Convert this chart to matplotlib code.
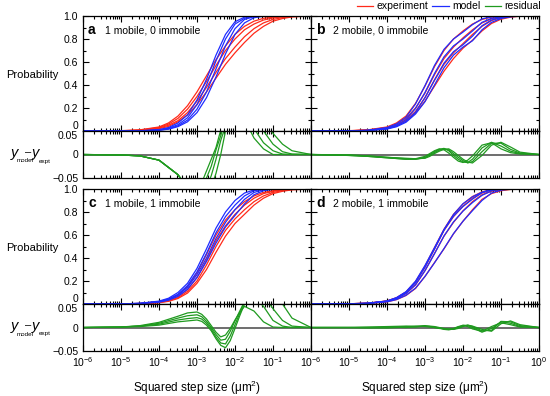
import matplotlib

matplotlib.use("Agg")
import matplotlib.pyplot as plt
import numpy as np
from matplotlib.lines import Line2D
from matplotlib.ticker import LogLocator, NullFormatter

plt.rcParams["font.family"] = ["Liberation Sans", "DejaVu Sans"]
plt.rcParams["mathtext.fontset"] = "custom"
plt.rcParams["mathtext.rm"] = "Liberation Sans"
plt.rcParams["mathtext.it"] = "Liberation Sans:italic"
plt.rcParams["font.size"] = 7.5

RED = "#ff2a1a"
BLUE = "#1f2cff"
GREEN = "#1f9a1f"

# log10 of squared step size for the cumulative curves
cdf_logx = [-6, -5, -4.5, -4, -3.75, -3.5, -3.25, -3, -2.75, -2.5, -2.25, -2,
            -1.75, -1.5, -1.25, -1, -0.75, -0.5, 0]
# log10 of squared step size for the residual curves
res_logx = [-6, -5, -4.5, -4, -3.5, -3.25, -3, -2.875, -2.75, -2.625, -2.5,
            -2.375, -2.25, -2.125, -2, -1.875, -1.75, -1.5, -1.25, -1, -0.75,
            -0.5, 0]
decades = [-6, -5, -4, -3, -2, -1, 0]

# panel a: 1 mobile, 0 immobile
expt_a = [
    [0, 0.003, 0.01, 0.035, 0.07, 0.13, 0.22, 0.34, 0.48, 0.62, 0.74, 0.84, 0.91, 0.955, 0.98, 0.99, 0.996, 0.999, 1],
    [0, 0.002, 0.008, 0.03, 0.06, 0.11, 0.19, 0.30, 0.43, 0.57, 0.70, 0.80, 0.88, 0.93, 0.965, 0.983, 0.993, 0.998, 1],
    [0, 0.001, 0.006, 0.025, 0.05, 0.09, 0.16, 0.26, 0.38, 0.51, 0.63, 0.73, 0.82, 0.89, 0.94, 0.97, 0.986, 0.995, 1],
    [0, 0.001, 0.005, 0.02, 0.04, 0.08, 0.14, 0.23, 0.34, 0.46, 0.58, 0.68, 0.77, 0.85, 0.91, 0.955, 0.978, 0.992, 1],
]
model_a = [
    [0, 0, 0.002, 0.012, 0.03, 0.07, 0.14, 0.27, 0.45, 0.66, 0.84, 0.95, 0.99, 1, 1, 1, 1, 1, 1],
    [0, 0, 0.001, 0.009, 0.024, 0.055, 0.115, 0.23, 0.40, 0.61, 0.80, 0.93, 0.98, 0.997, 1, 1, 1, 1, 1],
    [0, 0, 0.001, 0.007, 0.019, 0.045, 0.095, 0.19, 0.34, 0.54, 0.74, 0.89, 0.97, 0.994, 1, 1, 1, 1, 1],
    [0, 0, 0.001, 0.006, 0.016, 0.038, 0.08, 0.16, 0.29, 0.47, 0.67, 0.84, 0.94, 0.985, 0.998, 1, 1, 1, 1],
]
resid_a = [
    [0, -0.001, -0.003, -0.012, -0.043, -0.07, -0.085, -0.06, -0.035, -0.01, 0.015, 0.052, 0.09, 0.11, 0.11, 0.095, 0.075, 0.035, 0.012, 0, 0, 0, 0],
    [0, -0.001, -0.003, -0.012, -0.043, -0.072, -0.09, -0.08, -0.05, -0.025, 0.01, 0.04, 0.075, 0.1, 0.11, 0.105, 0.09, 0.055, 0.025, 0.008, 0.001, 0, 0],
    [0, -0.001, -0.003, -0.012, -0.043, -0.072, -0.095, -0.09, -0.07, -0.045, -0.01, 0.03, 0.06, 0.09, 0.105, 0.105, 0.1, 0.075, 0.05, 0.022, 0.006, 0.001, 0],
    [0, -0.001, -0.003, -0.012, -0.043, -0.072, -0.1, -0.1, -0.09, -0.07, -0.04, 0.0, 0.05, 0.08, 0.1, 0.105, 0.105, 0.09, 0.07, 0.045, 0.022, 0.008, 0],
]

# panel b: 2 mobile, 0 immobile
expt_b = [
    [0, 0.003, 0.01, 0.035, 0.07, 0.13, 0.24, 0.39, 0.56, 0.70, 0.80, 0.87, 0.93, 0.97, 0.99, 0.997, 1, 1, 1],
    [0, 0.002, 0.008, 0.03, 0.06, 0.11, 0.20, 0.33, 0.49, 0.63, 0.73, 0.81, 0.88, 0.94, 0.975, 0.99, 0.997, 1, 1],
    [0, 0.002, 0.007, 0.025, 0.05, 0.095, 0.17, 0.29, 0.44, 0.58, 0.68, 0.76, 0.84, 0.91, 0.96, 0.985, 0.995, 0.999, 1],
    [0, 0.002, 0.006, 0.022, 0.045, 0.085, 0.155, 0.26, 0.39, 0.52, 0.63, 0.72, 0.79, 0.87, 0.935, 0.972, 0.99, 0.998, 1],
]
model_b = [
    [0, 0.001, 0.007, 0.03, 0.062, 0.12, 0.235, 0.395, 0.57, 0.71, 0.80, 0.86, 0.925, 0.975, 0.993, 0.998, 1, 1, 1],
    [0, 0.001, 0.005, 0.024, 0.05, 0.1, 0.195, 0.335, 0.50, 0.645, 0.74, 0.80, 0.87, 0.945, 0.98, 0.993, 0.998, 1, 1],
    [0, 0.001, 0.004, 0.02, 0.042, 0.085, 0.163, 0.29, 0.445, 0.59, 0.69, 0.75, 0.825, 0.915, 0.965, 0.987, 0.996, 1, 1],
    [0, 0.001, 0.004, 0.017, 0.037, 0.076, 0.148, 0.255, 0.40, 0.55, 0.66, 0.73, 0.785, 0.88, 0.945, 0.978, 0.993, 0.999, 1],
]
resid_b = [
    [0, -0.002, -0.004, -0.007, -0.01, -0.009, -0.004, 0.002, 0.008, 0.012, 0.01, 0.003, -0.006, -0.014, -0.017, -0.012, -0.003, 0.02, 0.025, 0.012, 0.004, 0.001, 0],
    [0, -0.002, -0.004, -0.007, -0.01, -0.01, -0.006, 0.0, 0.006, 0.011, 0.013, 0.008, -0.002, -0.01, -0.016, -0.017, -0.01, 0.014, 0.026, 0.018, 0.007, 0.002, 0],
    [0, -0.001, -0.003, -0.006, -0.009, -0.01, -0.007, -0.002, 0.004, 0.009, 0.012, 0.01, 0.002, -0.006, -0.013, -0.018, -0.015, 0.006, 0.024, 0.024, 0.011, 0.003, 0],
    [0, -0.001, -0.003, -0.006, -0.008, -0.009, -0.008, -0.004, 0.002, 0.007, 0.011, 0.012, 0.006, -0.002, -0.01, -0.016, -0.018, -0.002, 0.02, 0.026, 0.016, 0.005, 0],
]

# panel c: 1 mobile, 1 immobile
expt_c = [
    [0, 0.001, 0.005, 0.02, 0.04, 0.08, 0.15, 0.27, 0.43, 0.60, 0.73, 0.82, 0.89, 0.94, 0.97, 0.985, 0.994, 0.998, 1],
    [0, 0.001, 0.004, 0.016, 0.032, 0.065, 0.125, 0.23, 0.38, 0.55, 0.68, 0.78, 0.86, 0.92, 0.96, 0.98, 0.991, 0.997, 1],
    [0, 0.001, 0.003, 0.013, 0.027, 0.055, 0.11, 0.20, 0.34, 0.50, 0.64, 0.74, 0.82, 0.89, 0.94, 0.97, 0.986, 0.995, 1],
    [0, 0.001, 0.003, 0.011, 0.023, 0.048, 0.095, 0.18, 0.30, 0.45, 0.59, 0.70, 0.78, 0.86, 0.92, 0.96, 0.98, 0.993, 1],
]
model_c = [
    [0, 0.001, 0.006, 0.025, 0.05, 0.1, 0.18, 0.31, 0.48, 0.66, 0.80, 0.90, 0.965, 0.992, 1, 1, 1, 1, 1],
    [0, 0.001, 0.005, 0.021, 0.043, 0.085, 0.16, 0.28, 0.44, 0.62, 0.76, 0.86, 0.94, 0.985, 0.998, 1, 1, 1, 1],
    [0, 0.001, 0.005, 0.019, 0.038, 0.076, 0.145, 0.255, 0.40, 0.57, 0.71, 0.82, 0.91, 0.97, 0.994, 1, 1, 1, 1],
    [0, 0.001, 0.004, 0.016, 0.033, 0.066, 0.128, 0.23, 0.37, 0.53, 0.67, 0.77, 0.87, 0.95, 0.985, 0.998, 1, 1, 1],
]
resid_c = [
    [0, 0.001, 0.004, 0.011, 0.024, 0.031, 0.033, 0.028, 0.018, 0.004, -0.01, -0.02, -0.016, -0.002, 0.016, 0.032, 0.045, 0.035, 0.012, 0.001, 0, 0, 0],
    [0, 0.001, 0.003, 0.009, 0.02, 0.025, 0.027, 0.023, 0.013, 0.0, -0.015, -0.027, -0.025, -0.008, 0.014, 0.035, 0.055, 0.065, 0.045, 0.015, 0.003, 0, 0],
    [0, 0.001, 0.003, 0.007, 0.016, 0.019, 0.021, 0.018, 0.009, -0.004, -0.02, -0.033, -0.035, -0.018, 0.006, 0.03, 0.055, 0.08, 0.07, 0.04, 0.015, 0.003, 0],
    [0, 0.001, 0.002, 0.005, 0.012, 0.014, 0.016, 0.013, 0.005, -0.007, -0.024, -0.038, -0.043, -0.028, -0.002, 0.025, 0.05, 0.085, 0.09, 0.075, 0.05, 0.02, 0],
]

# panel d: 2 mobile, 1 immobile
expt_d = [
    [0, 0.002, 0.007, 0.027, 0.055, 0.105, 0.195, 0.33, 0.49, 0.65, 0.78, 0.87, 0.935, 0.975, 0.993, 0.999, 1, 1, 1],
    [0, 0.002, 0.007, 0.026, 0.052, 0.1, 0.185, 0.32, 0.48, 0.64, 0.76, 0.85, 0.92, 0.965, 0.99, 0.998, 1, 1, 1],
    [0, 0.002, 0.006, 0.023, 0.046, 0.09, 0.165, 0.29, 0.44, 0.59, 0.71, 0.81, 0.89, 0.95, 0.98, 0.995, 1, 1, 1],
    [0, 0.001, 0.005, 0.019, 0.038, 0.074, 0.135, 0.24, 0.36, 0.48, 0.61, 0.72, 0.82, 0.91, 0.96, 0.985, 0.996, 1, 1],
]
model_d = [
    [0, 0.001, 0.006, 0.026, 0.055, 0.107, 0.198, 0.335, 0.49, 0.648, 0.778, 0.872, 0.932, 0.972, 0.995, 1, 1, 1, 1],
    [0, 0.002, 0.007, 0.026, 0.053, 0.102, 0.187, 0.32, 0.477, 0.642, 0.764, 0.848, 0.912, 0.968, 0.993, 1, 1, 1, 1],
    [0, 0.002, 0.006, 0.024, 0.047, 0.092, 0.168, 0.29, 0.437, 0.592, 0.714, 0.808, 0.882, 0.945, 0.984, 0.998, 1, 1, 1],
    [0, 0.001, 0.005, 0.019, 0.039, 0.076, 0.138, 0.24, 0.358, 0.482, 0.612, 0.72, 0.812, 0.9, 0.965, 0.99, 0.999, 1, 1],
]
resid_d = [
    [0, 0, 0.001, 0.002, 0.003, 0.002, 0.003, 0.002, 0.0, -0.002, -0.003, -0.004, -0.002, 0.002, 0.004, 0.002, -0.003, -0.008, 0.002, 0.01, 0.006, 0.001, 0],
    [0, 0, -0.001, 0.0, 0.002, 0.003, 0.002, 0.001, 0.0, -0.001, -0.004, -0.005, -0.003, 0.001, 0.005, 0.004, 0.0, -0.01, -0.002, 0.012, 0.009, 0.002, 0],
    [0, 0, 0.0, 0.001, 0.0, 0.002, 0.004, 0.002, 0.001, -0.001, -0.002, -0.004, -0.004, 0.0, 0.003, 0.005, 0.002, -0.007, -0.006, 0.013, 0.012, 0.004, 0],
    [0, 0, 0.0, -0.001, 0.001, 0.001, 0.003, 0.003, 0.002, 0.0, -0.003, -0.003, -0.004, -0.002, 0.002, 0.005, 0.003, -0.004, -0.008, 0.008, 0.014, 0.006, 0],
]

panels = [
    ("a", "1 mobile, 0 immobile", expt_a, model_a, resid_a),
    ("b", "2 mobile, 0 immobile", expt_b, model_b, resid_b),
    ("c", "1 mobile, 1 immobile", expt_c, model_c, resid_c),
    ("d", "2 mobile, 1 immobile", expt_d, model_d, resid_d),
]

W, H = 550, 396
fig = plt.figure(figsize=(5.5, 3.96), dpi=100)


def px_axes(x0, y0, x1, y1):
    return fig.add_axes([x0 / W, 1 - y1 / H, (x1 - x0) / W, (y1 - y0) / H])


def px_text(x, y, s, **kw):
    return fig.text(x / W, 1 - y / H, s, **kw)


cdf_x = 10.0 ** np.array(cdf_logx)
res_x = 10.0 ** np.array(res_logx)
major_x = 10.0 ** np.array(decades, dtype=float)

lefts = [83, 311, 83, 311]
tops = [16, 16, 189, 189]
for i, (letter, title, expt, model, resid) in enumerate(panels):
    x0, y0 = lefts[i], tops[i]
    ax = px_axes(x0, y0, x0 + 228, y0 + 115)
    axr = px_axes(x0, y0 + 115, x0 + 228, y0 + 162)

    for y in expt:
        ax.plot(cdf_x, y, color=RED, lw=0.9)
    for y in model:
        ax.plot(cdf_x, y, color=BLUE, lw=0.9)
    axr.axhline(0, color="#555555", lw=1.2, zorder=1)
    for y in resid:
        axr.plot(res_x, y, color=GREEN, lw=0.9, zorder=2)

    for a in (ax, axr):
        a.set_xscale("log")
        a.set_xlim(1e-6, 1)
        a.set_xticks(major_x, [""] * len(major_x))
        a.xaxis.set_minor_locator(LogLocator(base=10, subs=np.arange(2, 10), numticks=20))
        a.xaxis.set_minor_formatter(NullFormatter())
        a.tick_params(which="both", direction="in", top=True, right=True, width=0.8)
        a.tick_params(which="major", length=4.5)
        a.tick_params(which="minor", length=2.2)
        for s in a.spines.values():
            s.set_linewidth(0.9)

    ax.set_ylim(0, 1)
    ax.set_yticks(np.arange(0, 1.01, 0.1), minor=True)
    axr.set_ylim(-0.05, 0.05)
    axr.tick_params(axis="y", which="both", length=0)

    if i in (0, 2):
        ax.set_yticks([0, 0.2, 0.4, 0.6, 0.8, 1.0], ["0", "0.2", "0.4", "0.6", "0.8", "1.0"])
        ax.yaxis.get_major_ticks()[0].label1.set_verticalalignment("bottom")
        axr.set_yticks([-0.05, 0, 0.05], ["\u22120.05", "0", "0.05"])
        axr.yaxis.get_major_ticks()[2].label1.set_verticalalignment("top")
        px_text(32, y0 + 59, "Probability", ha="center", va="center", fontsize=8)
        # y_model - y_expt, assembled from pieces so the subscripts stay tiny
        yc = y0 + 137
        px_text(11, yc, "y", fontsize=10.5, style="italic", ha="left", va="center")
        px_text(17, yc + 8, "model", fontsize=4.5, ha="left", va="center")
        px_text(28, yc - 1, "\u2013", fontsize=8, ha="center", va="center")
        px_text(32, yc, "y", fontsize=10.5, style="italic", ha="left", va="center")
        px_text(38.5, yc + 8, "expt", fontsize=4.5, ha="left", va="center")
    else:
        ax.set_yticks([0, 0.2, 0.4, 0.6, 0.8, 1.0])
        ax.tick_params(axis="y", labelleft=False)
        axr.set_yticks([-0.05, 0, 0.05])
        axr.tick_params(axis="y", labelleft=False)

    if i >= 2:
        labels = [f"$10^{{{k}}}$" for k in decades]
        if i == 2:
            labels[-1] = ""
        axr.set_xticks(major_x, labels)
        axr.tick_params(axis="x", labelsize=7.5, pad=3)
        px_text(x0 + 114, 388, "Squared step size (\u03bcm$^2$)",
                ha="center", va="center", fontsize=8.5)

    ax.text(0.022, 0.875, letter, transform=ax.transAxes, fontsize=10,
            fontweight="bold", va="center", ha="left")
    ax.text(0.095, 0.875, title, transform=ax.transAxes, fontsize=7.5,
            va="center", ha="left")

handles = [
    Line2D([], [], color=RED, lw=0.9),
    Line2D([], [], color=BLUE, lw=0.9),
    Line2D([], [], color=GREEN, lw=0.9),
]
fig.legend(handles, ["experiment", "model", "residual"], loc="upper right",
           bbox_to_anchor=(541 / W, 0.997), ncol=3, frameon=False, fontsize=7.5,
           handlelength=1.6, handletextpad=0.3, columnspacing=0.4,
           borderpad=0, borderaxespad=0)

fig.savefig("out.png", dpi=100)
